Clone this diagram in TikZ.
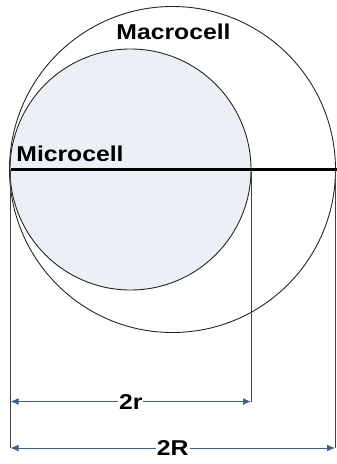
\documentclass[tikz,border=0pt]{standalone}
\usepackage{fontspec}
\setmainfont{Liberation Sans}[FakeStretch=1.15]
\usetikzlibrary{calc,arrows.meta,positioning}
\usepackage{xcolor}
\definecolor{cellfill}{HTML}{ECEFF5}
\definecolor{dimblue}{HTML}{3D6290}

\begin{document}
\begin{tikzpicture}[x=1pt,y=1pt,
    cellline/.style={draw=black!85, line width=0.9pt},
    guideline/.style={draw=black!75, line width=1pt},
    dimline/.style={draw=dimblue, line width=1pt,
        {Latex[length=8pt,width=7pt]}-{Latex[length=8pt,width=7pt]}},
    celllabel/.style={font=\bfseries\fontsize{21.5}{22}\selectfont, inner sep=1pt}]
    \useasboundingbox (0,0) rectangle (337,-464);

    \coordinate (O) at (172.5,-169.5);
    \coordinate (o) at (130.5,-169.5);
    \coordinate (L) at (10.5,-169.5);
    \coordinate (M) at (251,-169.5);
    \coordinate (R) at (335,-169.5);
    \coordinate (E) at (337,-169.5);
    \coordinate (Ls) at (10.5,-401.5);
    \coordinate (Ms) at (251,-401.5);
    \coordinate (Lb) at (10.5,-448);
    \coordinate (Rb) at (335,-448);

    \fill[cellfill] (o) circle (120.5);
    \draw[cellline] (o) circle (120.5);
    \draw[cellline] (O) circle (163);
    \draw[line width=3pt] (L) -- (E);

    \draw[guideline] (L) -- (Lb);
    \draw[guideline] (M) -- (Ms);
    \draw[guideline] (R) -- (Rb);

    \draw[dimline] (Ls) -- node[celllabel, fill=white] (small) {2r} (Ms);
    \draw[dimline] (Lb) -- node[celllabel, fill=white] (big) {2R} (Rb);

    \node[celllabel] (macro) at (173.5,-31.5) {Macrocell};
    \node[celllabel] (micro) at (70,-154) {Microcell};
\end{tikzpicture}
\end{document}
